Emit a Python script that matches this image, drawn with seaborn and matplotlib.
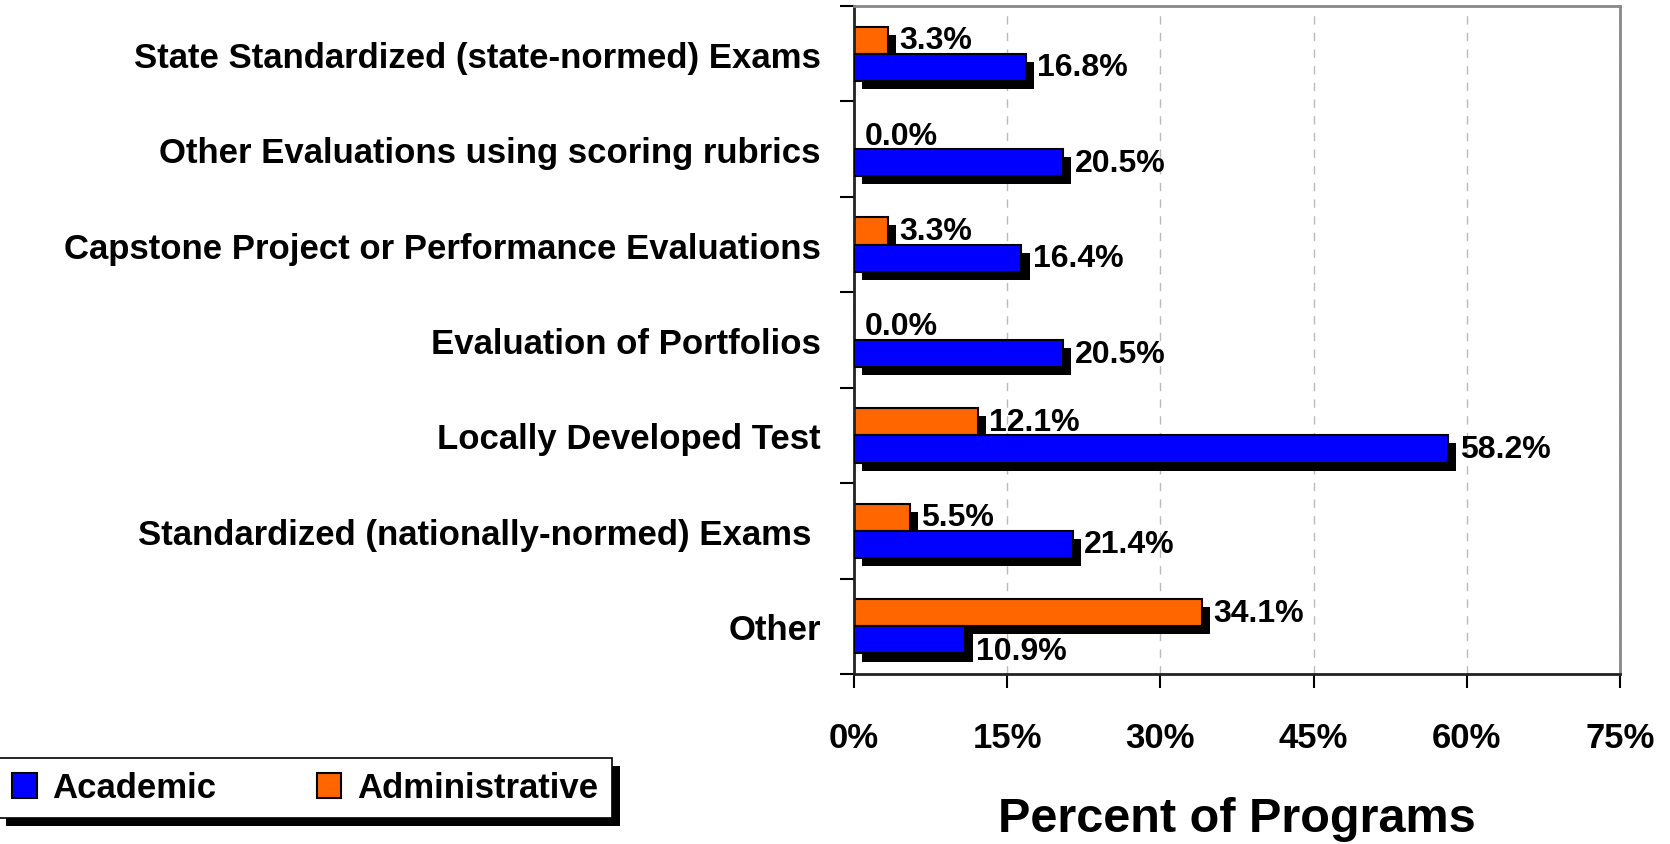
import matplotlib
matplotlib.use('Agg')
import matplotlib.pyplot as plt
import matplotlib.patheffects as pe
from matplotlib.patches import Patch
import numpy as np
import pandas as pd
import seaborn as sns

# Data (top to bottom)
categories = [
    'State Standardized (state-normed) Exams',
    'Other Evaluations using scoring rubrics',
    'Capstone Project or Performance Evaluations',
    'Evaluation of Portfolios',
    'Locally Developed Test',
    'Standardized (nationally-normed) Exams ',
    'Other',
]
academic = [16.8, 20.5, 16.4, 20.5, 58.2, 21.4, 10.9]
administrative = [3.3, 0.0, 3.3, 0.0, 12.1, 5.5, 34.1]
xticks = [0, 15, 30, 45, 60, 75]

colors = {'Academic': '#0000FF', 'Administrative': '#FF6600'}

df = pd.DataFrame({
    'category': categories * 2,
    'value': academic + administrative,
    'type': ['Academic'] * len(categories) + ['Administrative'] * len(categories),
})

sns.set_style('white')
plt.rcParams['font.family'] = ['Liberation Sans', 'DejaVu Sans']
plt.rcParams['font.weight'] = 'bold'
plt.rcParams['text.color'] = 'black'
plt.rcParams['xtick.color'] = 'black'
plt.rcParams['ytick.color'] = 'black'
plt.rcParams['axes.labelcolor'] = 'black'

fig = plt.figure(figsize=(16.7, 8.45), dpi=100)
ax = fig.add_axes([854 / 1670, 1 - 675 / 845, (1620 - 854) / 1670, (675 - 7) / 845])

sns.barplot(data=df, y='category', x='value', hue='type',
            hue_order=['Administrative', 'Academic'], palette=colors,
            orient='h', width=0.57, gap=0, edgecolor='black', linewidth=1.5,
            saturation=1, legend=False, ax=ax)

shadow = [pe.SimplePatchShadow(offset=(5.8, -5.8), shadow_rgbFace='black', alpha=1.0), pe.Normal()]
for cont, z in zip(ax.containers, [2, 3]):
    for bar in cont:
        bar.set_path_effects(shadow)
        bar.set_zorder(z)

# value labels; Excel nudged the lowest academic label below the orange shadow
for cont in ax.containers:
    for bar, v in zip(cont, cont.datavalues):
        y = bar.get_y() + bar.get_height() / 2
        dy = -8 if (v == academic[-1] and cont is ax.containers[1]) else 0
        ax.annotate(f'{v:.1f}%', (v, y), xytext=(8, dy), textcoords='offset points',
                    ha='left', va='center', fontsize=23, fontweight='bold',
                    color='black', zorder=5)

ax.set_xlim(0, 75)
ax.set_ylim(len(categories) - 0.5, -0.5)
ax.set_xticks(xticks)
ax.set_xticklabels([f'{t}%' for t in xticks], fontsize=25, fontweight='bold')
ax.tick_params(axis='x', direction='out', length=10, width=1.5, pad=24, bottom=True)
ax.tick_params(axis='y', which='major', length=0, pad=24, labelsize=25)
ax.set_yticks(np.arange(-0.5, len(categories) + 0.5, 1), minor=True)
ax.tick_params(axis='y', which='minor', direction='out', length=10, width=1.5, left=True)
for lab in ax.get_yticklabels():
    lab.set_fontweight('bold')

ax.xaxis.grid(True, linestyle=(0, (6, 6)), color='#BBBBBB', linewidth=1)
ax.yaxis.grid(False)
ax.set_axisbelow(True)

ax.set_ylabel('')
ax.set_xlabel('Percent of Programs', fontsize=35, fontweight='bold', labelpad=30)

for side in ['left', 'bottom']:
    ax.spines[side].set_color('#222222')
    ax.spines[side].set_linewidth(2)
for side in ['top', 'right']:
    ax.spines[side].set_color('#888888')
    ax.spines[side].set_linewidth(2)

handles = [Patch(facecolor=colors['Academic'], edgecolor='black', linewidth=1.5),
           Patch(facecolor=colors['Administrative'], edgecolor='black', linewidth=1.5)]
leg = fig.legend(handles, ['Academic', 'Administrative'], ncol=2, loc='center left',
                 bbox_to_anchor=(-0.001, 1 - 789 / 845),
                 handlelength=0.7, handleheight=0.7, handletextpad=0.45,
                 columnspacing=2.9, borderpad=0.4, borderaxespad=0, fancybox=False,
                 framealpha=1, edgecolor='black', prop={'weight': 'bold', 'size': 25})
leg.get_frame().set_linewidth(1.2)
leg.get_frame().set_path_effects([pe.SimplePatchShadow(offset=(5.8, -5.8), shadow_rgbFace='black', alpha=1.0), pe.Normal()])

fig.savefig('out.png', dpi=100)
